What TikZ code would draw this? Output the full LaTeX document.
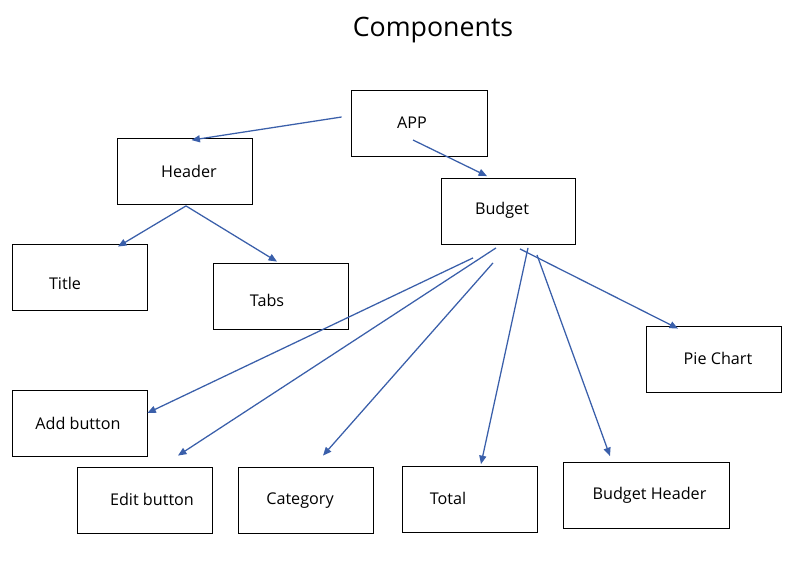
\documentclass[tikz,border=0pt]{standalone}
\usepackage{fontspec}
\setmainfont{Open Sans}
\usepackage{tikz}
\usetikzlibrary{arrows.meta}
\definecolor{linkblue}{RGB}{58, 95, 170}

\tikzset{
    box/.style={draw=black, line width=0.6pt, minimum height=66*0.025cm, inner sep=0pt},
    link/.style={draw=linkblue, line width=0.9pt, -{Triangle[length=6pt, width=5pt]}},
    every label/.style={font=\fontsize{11.5}{13}\selectfont, text=black}
}

\begin{document}
\begin{tikzpicture}[x=0.025cm, y=-0.025cm]
    \useasboundingbox (0,0) rectangle (809,568);

    \node(heading)[font=\fontsize{19}{23}\selectfont] at (433,30) {Components};

    % boxes: name / centre / width / text / text offset
    \foreach \name/\cx/\cy/\w/\txt/\dx/\dy in {
        app/419/123/136/APP/-7/0,
        header/184.5/171.5/135/Header/4.5/0,
        budget/508/211.5/134/Budget/-6/-1.5,
        title/80/277/135/Title/-15/6,
        tabs/280.5/296/135/Tabs/-13.5/4,
        pie/713.5/359/135/Pie Chart/4.5/-1,
        addbtn/79.5/423/135/Add button/-1.5/0,
        editbtn/144.5/500/135/Edit button/7.5/-1,
        category/305.5/500/135/Category/-5.5/1,
        total/469.5/499.5/135/Total/-21.5/-1.5,
        bheader/646/495.5/166/Budget Header/3.5/0} {
        \node(\name)[
            box,
            minimum width=\w*0.025cm,
            label={[shift={(\dx,\dy)}]center:\txt}
        ] at (\cx,\cy) {};
    }

    % connectors
    \foreach \from/\fa/\fx/\fy/\to/\ta/\tx/\ty in {
        app/west/-9/-6/header/north/7/2,
        app/center/-6/17/budget/north/-21/-2,
        header/south/1.5/1/title/north/38/3,
        header/south/1.5/1/tabs/north/-3.5/-1,
        budget/south/-35/13/addbtn/east/0/-10,
        budget/south/-12/3/editbtn/north/33.5/-11,
        budget/south/-15/18/category/north/17.5/-11,
        budget/south/20/3/total/north/11.5/-2,
        budget/south/29/10/bheader/north/-36/-6,
        budget/south/12/4/pie/north/-35.5/3} {
        \draw[link] ([shift={(\fx,\fy)}]\from.\fa) -- ([shift={(\tx,\ty)}]\to.\ta);
    }
\end{tikzpicture}
\end{document}
